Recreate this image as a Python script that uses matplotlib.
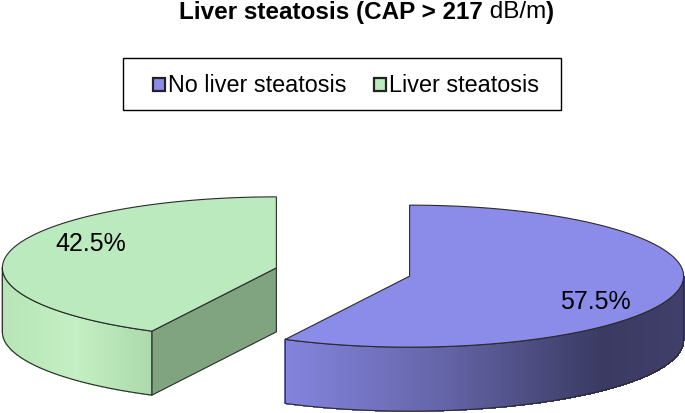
import numpy as np
import matplotlib
matplotlib.use('Agg')
import matplotlib.pyplot as plt
from matplotlib.patches import Polygon, Rectangle
from matplotlib.collections import PolyCollection
from matplotlib.colors import LinearSegmentedColormap
from matplotlib.offsetbox import TextArea, HPacker, AnnotationBbox

# data
labels = ['No liver steatosis', 'Liver steatosis']
values = [57.5, 42.5]
top_colors = ['#8b8be9', '#baeabd']
cut_colors = ['#56568f', '#80a380']
wall_stops = [[(0, '#8484de'), (0.4, '#6464a8'), (0.8, '#3a3a62'), (1, '#3f3f6a')],
              [(0, '#b7e5b7'), (0.5, '#c4efc4'), (1, '#acdaac')]]

plt.rcParams['font.family'] = ['Liberation Sans', 'DejaVu Sans']

fig = plt.figure(figsize=(6.85, 4.14), dpi=100)
ax = fig.add_axes([0, 0, 1, 1])
ax.set_xlim(0, 685)
ax.set_ylim(414, 0)
ax.axis('off')

# pie layout (pixels)
cx, cy = 343, 273
rx, ry = 274, 71
depth = 64
explode = 0.25
edge = '#2b2b2b'


def ell(x0, y0, t):
    return x0 + rx * np.cos(t), y0 - ry * np.sin(t)


start = np.pi / 2
fracs = np.array(values) / sum(values)
for i, f in enumerate(fracs):
    a1 = start
    a0 = start - 2 * np.pi * f  # clockwise from 12 o'clock
    start = a0
    mid = (a0 + a1) / 2
    x0 = cx + explode * rx * np.cos(mid)
    y0 = cy - explode * ry * np.sin(mid)

    # front wall with horizontal gradient
    lo, hi = max(a0, -np.pi), min(a1, 0)
    if hi > lo:
        t = np.linspace(lo, hi, 200)
        xs, ys = ell(x0, y0, t)
        cmap = LinearSegmentedColormap.from_list('w%d' % i, wall_stops[i])
        xn = (xs - xs.min()) / (xs.max() - xs.min())
        quads = []
        cols = []
        for k in range(len(t) - 1):
            quads.append([(xs[k], ys[k]), (xs[k + 1], ys[k + 1]),
                          (xs[k + 1], ys[k + 1] + depth), (xs[k], ys[k] + depth)])
            cols.append(cmap((xn[k] + xn[k + 1]) / 2))
        ax.add_collection(PolyCollection(quads, facecolors=cols, edgecolors=cols,
                                         linewidths=0.6, antialiaseds=False))
        outline = list(zip(xs, ys)) + list(zip(xs[::-1], ys[::-1] + depth))
        ax.add_patch(Polygon(outline, closed=True, fill=False, edgecolor=edge, lw=0.8))

    # radial cut faces that face the viewer
    for a, vis in ((a1, np.cos(a1) < -1e-6), (a0, np.cos(a0) > 1e-6)):
        if vis:
            ex, ey = ell(x0, y0, a)
            ax.add_patch(Polygon([(x0, y0), (ex, ey), (ex, ey + depth), (x0, y0 + depth)],
                                 closed=True, facecolor=cut_colors[i], edgecolor=edge, lw=0.8))

    # top face
    t = np.linspace(a0, a1, 300)
    xs, ys = ell(x0, y0, t)
    pts = [(x0, y0)] + list(zip(xs, ys))
    ax.add_patch(Polygon(pts, closed=True, facecolor=top_colors[i], edgecolor=edge, lw=0.8))

    # percentage label, pushed toward the wide part of the slice
    la = mid + (mid - np.pi * np.round(mid / np.pi))
    lx, ly = x0 + 0.76 * rx * np.cos(la), y0 - 0.76 * ry * np.sin(la)
    ax.text(lx, ly, '%.1f%%' % values[i], fontsize=18, ha='center', va='center', color='black')

# title with mixed weights
parts = [TextArea('Liver steatosis (CAP > 217', textprops=dict(fontsize=17.5, fontweight='bold')),
         TextArea(' dB/m', textprops=dict(fontsize=17.5)),
         TextArea(')', textprops=dict(fontsize=17.5, fontweight='bold'))]
title = HPacker(children=parts, align='baseline', pad=0, sep=0)
ax.add_artist(AnnotationBbox(title, (366.5, 12), xycoords='data', frameon=False,
                             box_alignment=(0.5, 0.5), pad=0))

# legend box
ax.add_patch(Rectangle((123, 59), 438, 52, fill=False, edgecolor='black', lw=1.0))
leg_x = [153, 374]
for i, lab in enumerate(labels):
    ax.add_patch(Rectangle((leg_x[i], 79), 12, 13, facecolor=top_colors[i], edgecolor='#222222', lw=1.6))
    ax.text(leg_x[i] + 15, 86, lab, fontsize=16.8, ha='left', va='center', color='black')

fig.savefig('out.png', dpi=100)
